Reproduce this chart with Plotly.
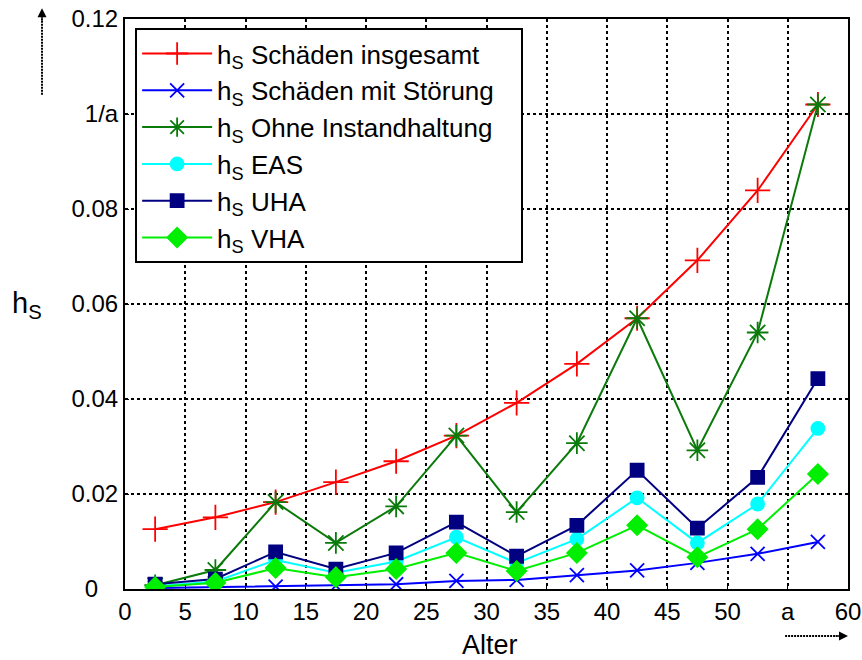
import plotly.graph_objects as go

age = [2.5, 7.5, 12.5, 17.5, 22.5, 27.5, 32.5, 37.5, 42.5, 47.5, 52.5, 57.5]

hs_total = [0.0126, 0.0151, 0.0183, 0.0225, 0.0269, 0.0323, 0.0392, 0.0474, 0.0570, 0.0692, 0.0839, 0.1020]
hs_stoerung = [0.0002, 0.0004, 0.0005, 0.0007, 0.0010, 0.0017, 0.0019, 0.0029, 0.0039, 0.0055, 0.0074, 0.0099]
hs_ohne = [0.0008, 0.0040, 0.0183, 0.0097, 0.0174, 0.0323, 0.0162, 0.0307, 0.0570, 0.0292, 0.0540, 0.1020]
hs_eas = [0.0006, 0.0016, 0.0061, 0.0034, 0.0058, 0.0109, 0.0055, 0.0105, 0.0192, 0.0097, 0.0179, 0.0338]
hs_uha = [0.0010, 0.0021, 0.0078, 0.0042, 0.0076, 0.0141, 0.0069, 0.0134, 0.0250, 0.0128, 0.0235, 0.0443]
hs_vha = [0.0004, 0.0013, 0.0044, 0.0025, 0.0042, 0.0076, 0.0038, 0.0076, 0.0134, 0.0067, 0.0126, 0.0242]

series_names = ["Schäden insgesamt", "Schäden mit Störung", "Ohne Instandhaltung", "EAS", "UHA", "VHA"]

x_tickvals = [0, 5, 10, 15, 20, 25, 30, 35, 40, 45, 50, 55, 60]
x_ticktext = ["0", "5", "10", "15", "20", "25", "30", "35", "40", "45", "50", "a", "60"]
y_tickvals = [0, 0.02, 0.04, 0.06, 0.08, 0.10, 0.12]
y_ticktext = ["0\u00a0\u00a0\u00a0", "0.02", "0.04", "0.06", "0.08", "1/a", "0.12"]

FONT = "Liberation Sans, Arial, sans-serif"

styles = [
    dict(color="#ff0000", symbol="cross-thin-open", size=18),
    dict(color="#0000ff", symbol="x-thin-open", size=14),
    dict(color="#0a7a0a", symbol="asterisk-open", size=18),
    dict(color="#00ffff", symbol="circle", size=13),
    dict(color="#000080", symbol="square", size=13),
    dict(color="#00ee00", symbol="diamond", size=15),
]
data = [hs_total, hs_stoerung, hs_ohne, hs_eas, hs_uha, hs_vha]

fig = go.Figure()
for name, vals, st in zip(series_names, data, styles):
    fig.add_trace(go.Scatter(
        x=age, y=vals, mode="lines+markers",
        name="h<sub>S</sub> " + name + "\u00a0\u00a0\u00a0",
        line=dict(color=st["color"], width=2),
        marker=dict(symbol=st["symbol"], size=st["size"], color=st["color"],
                    line=dict(color=st["color"], width=1.8)),
    ))

axis_common = dict(
    showgrid=True, gridcolor="black", griddash="dot", gridwidth=2,
    showline=True, linecolor="black", linewidth=2, mirror=True,
    ticks="inside", ticklen=4, tickcolor="black",
    zeroline=False, automargin=False,
    tickfont=dict(family=FONT, size=24, color="black"),
)

fig.update_layout(
    width=862, height=660,
    margin=dict(l=125, r=14, t=19, b=71),
    paper_bgcolor="white", plot_bgcolor="white",
    font=dict(family=FONT, color="black"),
    xaxis=dict(range=[0, 60], tickvals=x_tickvals, ticktext=x_ticktext, **axis_common),
    yaxis=dict(range=[0, 0.12], tickvals=y_tickvals, ticktext=y_ticktext, **axis_common),
    legend=dict(
        x=0.014, y=0.984, xanchor="left", yanchor="top",
        bgcolor="white", bordercolor="black", borderwidth=2,
        font=dict(family=FONT, size=26, color="black"),
        tracegroupgap=0, itemwidth=70,
    ),
    showlegend=True,
)

fig.add_annotation(text="Alter", xref="paper", yref="paper", x=0.505, y=-0.098,
                   xanchor="center", yanchor="middle", showarrow=False,
                   font=dict(family=FONT, size=27, color="black"))
fig.add_annotation(text="h<sub>S</sub>", xref="paper", yref="paper", x=-0.136, y=0.498,
                   xanchor="center", yanchor="middle", showarrow=False,
                   font=dict(family=FONT, size=29, color="black"))

# axis direction arrows: dotted shafts + arrowheads
fig.add_shape(type="line", xref="paper", yref="paper", x0=-0.1148, x1=-0.1148,
              y0=0.867, y1=1.0, line=dict(color="black", width=2, dash="2px,1px"))
fig.add_annotation(xref="paper", yref="paper", x=-0.1148, y=1.019, ax=0, ay=14,
                   showarrow=True, arrowhead=2, arrowsize=1.2, arrowwidth=1.5,
                   arrowcolor="black", text="")
fig.add_shape(type="line", xref="paper", yref="paper", x0=0.913, x1=0.985,
              y0=-0.0825, y1=-0.0825, line=dict(color="black", width=2, dash="2px,1px"))
fig.add_annotation(xref="paper", yref="paper", x=1.0, y=-0.0825, ax=-14, ay=0,
                   showarrow=True, arrowhead=2, arrowsize=1.2, arrowwidth=1.5,
                   arrowcolor="black", text="")

fig.write_html("out.html", config={"displayModeBar": False},
               post_script="document.body.style.margin='0';")
